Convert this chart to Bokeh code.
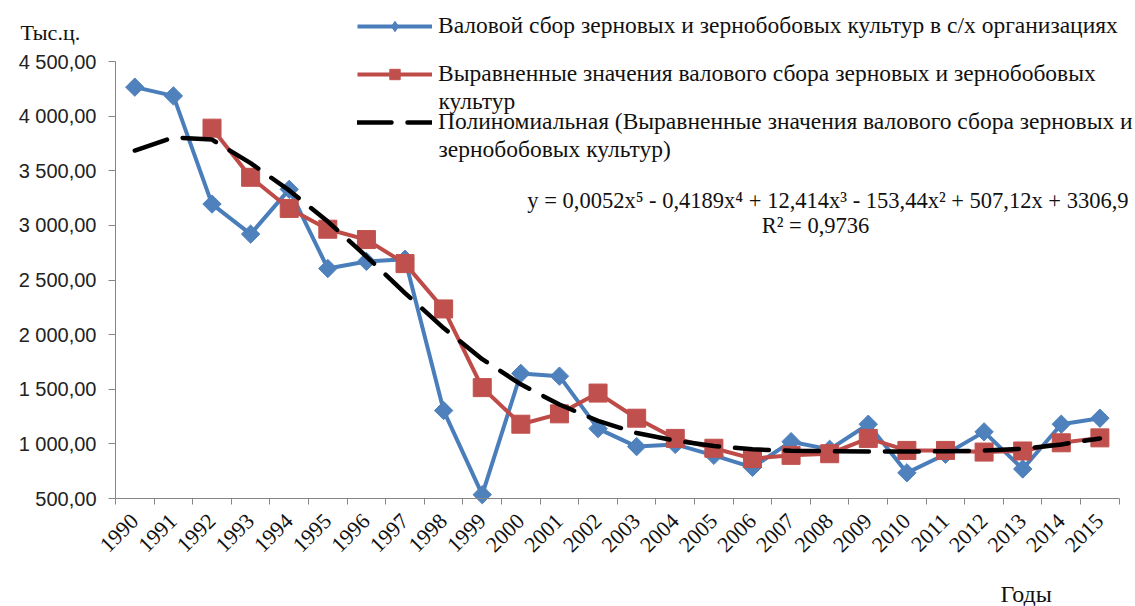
import math
from bokeh.plotting import figure
from bokeh.models import FixedTicker, Range1d, Legend, LegendItem, Label
from bokeh.embed import file_html
from bokeh.resources import INLINE

years = list(range(1990, 2016))
year_labels = [str(y) for y in years]
gross = [4265, 4185, 3195, 2920, 3330, 2605, 2670, 2690, 1305, 535, 1645, 1620, 1140,
         975, 995, 895, 785, 1020, 950, 1180, 735, 905, 1110, 770, 1180, 1235]
nan = float("nan")
smoothed = [nan, nan, 3890, 3440, 3155, 2965, 2870, 2650, 2235, 1515, 1180, 1275, 1465,
            1235, 1050, 960, 865, 895, 910, 1050, 940, 940, 925, 935, 1010, 1055]
trend = [3685, 3805, 3785, 3570, 3320, 3035, 2715, 2380, 2060, 1775, 1545, 1360, 1210,
         1100, 1030, 980, 950, 938, 932, 930, 930, 932, 938, 955, 995, 1050]
y_ticks = [500, 1000, 1500, 2000, 2500, 3000, 3500, 4000, 4500]
y_tick_labels = ["500,00", "1 000,00", "1 500,00", "2 000,00", "2 500,00",
                 "3 000,00", "3 500,00", "4 000,00", "4 500,00"]

name1 = "Валовой сбор зерновых и зернобобовых культур в с/х организациях"
name2a = "Выравненные значения валового сбора зерновых и зернобобовых"
name2b = "культур"
name3a = "Полиномиальная (Выравненные значения валового сбора зерновых и"
name3b = "зернобобовых культур)"
equation = "y = 0,0052x\u2075 - 0,4189x\u2074 + 12,414x\u00b3 - 153,44x\u00b2 + 507,12x + 3306,9"
r2 = "R\u00b2 = 0,9736"
y_title = "Тыс.ц."
x_title = "Годы"

SERIF = "Liberation Serif"
BLUE_L = "#4A7EBB"
BLUE_F = "#4F81BD"
RED_L = "#BE4B48"
RED_F = "#C0504D"
AXIS = "#868686"

# page geometry (pixels)
W, H = 1135, 606
AX_L, AX_R = 115.0, 1118.7      # pixel x of the category-axis ends
AX_T, AX_B = 61.0, 498.0        # pixel y of the value-axis ends

x0, x1 = years[0] - 0.5, years[-1] + 0.5
y0, y1 = y_ticks[0], y_ticks[-1]
kx = (AX_R - AX_L) / (x1 - x0)
ky = (AX_B - AX_T) / (y1 - y0)
xr = Range1d(x0 - AX_L / kx, x1 + (W - AX_R) / kx)
yr = Range1d(y0 - (H - AX_B) / ky, y1 + AX_T / ky)

p = figure(width=W, height=H, output_backend="svg", toolbar_location=None,
           x_range=xr, y_range=yr, min_border=0)
p.outline_line_color = None
p.xgrid.visible = False
p.ygrid.visible = False
p.background_fill_color = "white"
p.border_fill_color = "white"

# axes
p.yaxis.fixed_location = x0
p.yaxis.bounds = (y0, y1)
p.yaxis.ticker = FixedTicker(ticks=y_ticks)
p.yaxis.major_label_overrides = {t: s for t, s in zip(y_ticks, y_tick_labels)}
p.yaxis.major_tick_out = 7
p.yaxis.major_tick_in = 0
p.yaxis.minor_tick_out = 0
p.yaxis.minor_tick_in = 0
p.yaxis.axis_line_color = AXIS
p.yaxis.major_tick_line_color = AXIS
p.yaxis.major_label_text_font = "Liberation Sans"
p.yaxis.major_label_text_font_size = "20px"
p.yaxis.major_label_text_color = "#222222"
p.yaxis.major_label_standoff = 12

bounds = [y - 0.5 for y in years] + [years[-1] + 0.5]
p.xaxis.fixed_location = y0
p.xaxis.bounds = (x0, x1)
p.xaxis.ticker = FixedTicker(ticks=years, minor_ticks=bounds)
p.xaxis.major_label_overrides = {y: s for y, s in zip(years, year_labels)}
p.xaxis.major_tick_out = 0
p.xaxis.major_tick_in = 0
p.xaxis.minor_tick_out = 6
p.xaxis.minor_tick_in = 0
p.xaxis.minor_tick_line_color = AXIS
p.xaxis.axis_line_color = AXIS
p.xaxis.major_label_orientation = math.pi / 4
p.xaxis.major_label_text_font = SERIF
p.xaxis.major_label_text_font_size = "22px"
p.xaxis.major_label_text_color = "#111111"
p.xaxis.major_label_standoff = 13

# series
bl = p.line(years, gross, line_color=BLUE_L, line_width=4)
bm = p.scatter(years, gross, marker="square", size=13, angle=math.pi / 4,
               fill_color=BLUE_F, line_color=BLUE_F)
rl = p.line(years, smoothed, line_color=RED_L, line_width=4)
rm = p.scatter(years, smoothed, marker="square", size=18,
               fill_color=RED_F, line_color=RED_F)
tl = p.line(years, trend, line_color="black", line_width=4.5, line_dash="34 16",
            line_cap="round")
# hidden renderer used only for the legend key (small diamond)
bkey = p.scatter(years, gross, marker="diamond", size=10, fill_color=BLUE_F,
                 line_color=BLUE_F, visible=False)

# legend entries (one legend per entry for exact placement)
LEG_X = 357
ITEM_H = 26

def add_legend(label, renderers, center_y):
    lg = Legend(items=[LegendItem(label=label, renderers=renderers)],
                location=(LEG_X, H - center_y - ITEM_H / 2), orientation="vertical",
                glyph_width=75, glyph_height=ITEM_H, label_height=ITEM_H,
                label_standoff=6, padding=0, margin=0, spacing=0,
                border_line_color=None, background_fill_alpha=0,
                label_text_font=SERIF, label_text_font_size="23.5px",
                label_text_color="#111111")
    p.add_layout(lg, "center")

add_legend(name1, [bl, bkey], 26)
add_legend(name2a, [rl, rm], 74)
add_legend(name3a, [tl], 122)

def add_label(text, x, y, align="left", size="22px"):
    p.add_layout(Label(x=x, y=H - y, x_units="screen", y_units="screen", text=text,
                       text_font=SERIF, text_font_size=size, text_color="#111111",
                       text_align=align, text_baseline="middle"))

add_label(name2b, 438, 100, size="23.5px")
add_label(name3b, 438, 148, size="23.5px")
add_label(equation, 1128, 200, align="right", size="22.5px")
add_label(r2, 815, 225, align="center", size="22.5px")
add_label(y_title, 20, 32)
add_label(x_title, 1000, 593, size="24px")

open("out.html", "w").write(file_html(p, INLINE))
